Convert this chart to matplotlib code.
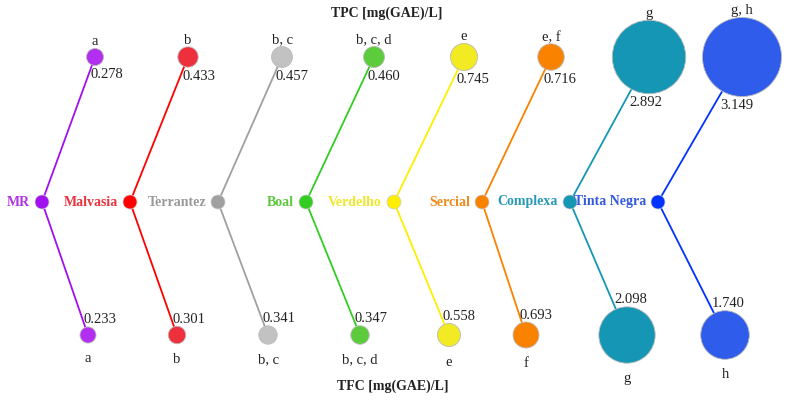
import matplotlib.pyplot as plt
from matplotlib.patches import Circle

# wine types and the two measures (TPC on top, TFC at the bottom)
wines = ['MR', 'Malvasia', 'Terrantez', 'Boal', 'Verdelho', 'Sercial', 'Complexa', 'Tinta Negra']
tpc = [0.278, 0.433, 0.457, 0.460, 0.745, 0.716, 2.892, 3.149]
tfc = [0.233, 0.301, 0.341, 0.347, 0.558, 0.693, 2.098, 1.740]
tpc_groups = ['a', 'b', 'b, c', 'b, c, d', 'e', 'e, f', 'g', 'g, h']
tfc_groups = ['a', 'b', 'b, c', 'b, c, d', 'e', 'f', 'g', 'h']

# colours: label text, centre node / line, outer circles
label_colors = ['#b033e6', '#e8343f', '#999999', '#5cc93c', '#f0e62a', '#f08a1c', '#2898b6', '#3358e0']
node_colors = ['#a010f0', '#ff0000', '#a0a0a0', '#33cc22', '#ffee00', '#f98200', '#1496b4', '#0033ff']
circle_colors = ['#b22ef0', '#ee2f3c', '#c2c2c2', '#5ccc3c', '#f2ea22', '#f98200', '#1496b4', '#2f5ceb']

# layout in pixels (axes spans the whole figure)
x0, step = 42, 88
mid_y, top_y, bot_y = 202, 57, 335
top_dx = [53, 58, 64, 68, 70, 69, 79, 84]
bot_dx = [46, 47, 50, 54, 55, 44, 57, 67]
serif = 'Liberation Serif'


def radius(v):
    return 5.5 + 10.8 * v


fig = plt.figure(figsize=(7.9, 4.01), dpi=100)
ax = fig.add_axes([0, 0, 1, 1])
ax.set_xlim(0, 790)
ax.set_ylim(401, 0)
ax.axis('off')

for i, name in enumerate(wines):
    cx = x0 + step * i
    for val, grp, dx, ny, top in [(tpc[i], tpc_groups[i], top_dx[i], top_y, True),
                                  (tfc[i], tfc_groups[i], bot_dx[i], bot_y, False)]:
        nx = cx + dx
        r = radius(val)
        # line from centre to circle edge
        vx, vy = nx - cx, ny - mid_y
        d = (vx ** 2 + vy ** 2) ** 0.5
        ex, ey = nx - r * vx / d, ny - r * vy / d
        ax.plot([cx, ex], [mid_y, ey], color=node_colors[i], lw=1.3, zorder=1)
        ax.add_patch(Circle((nx, ny), r, facecolor=circle_colors[i],
                            edgecolor='#bbbbbb', lw=0.6, zorder=2))
        if top:
            ax.text(ex - 2, ny + r + 9, f'{val:.3f}', ha='left', va='center',
                    fontsize=10.5, family=serif, color='#222222', zorder=3)
            ax.text(nx, ny - r, grp, ha='center', va='bottom',
                    fontsize=10.5, family=serif, color='#222222')
        else:
            ax.text(ex - 2, ny - r - 7, f'{val:.3f}', ha='left', va='center',
                    fontsize=10.5, family=serif, color='#222222', zorder=3)
            ax.text(nx, ny + r + 9, grp, ha='center', va='top',
                    fontsize=10.5, family=serif, color='#222222')
    ax.add_patch(Circle((cx, mid_y), 7, facecolor=node_colors[i],
                        edgecolor='#cccccc', lw=0.5, zorder=2))
    ax.text(cx - 12, mid_y, name, ha='right', va='center', fontsize=10,
            family=serif, weight='bold', color=label_colors[i], zorder=3)

ax.text(387, 13, 'TPC [mg(GAE)/L]', ha='center', va='center', fontsize=10,
        family=serif, weight='bold', color='#222222')
ax.text(393, 386, 'TFC [mg(GAE)/L]', ha='center', va='center', fontsize=10,
        family=serif, weight='bold', color='#222222')

fig.savefig('out.png', dpi=100)
